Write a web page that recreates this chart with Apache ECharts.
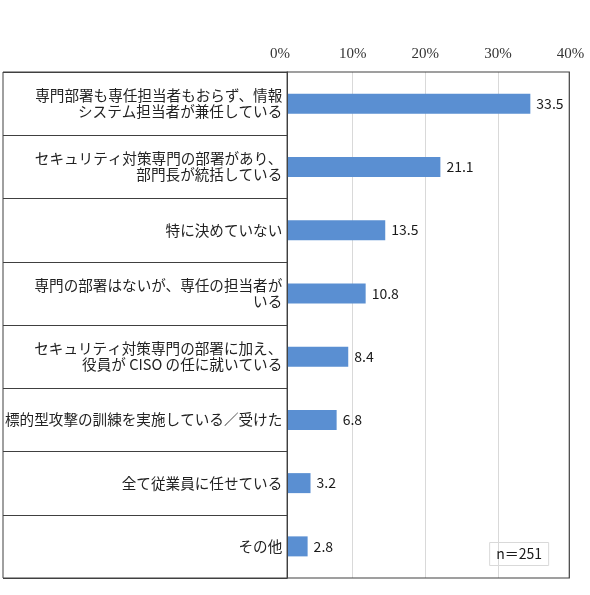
<!DOCTYPE html>
<html>
<head>
<meta charset="utf-8">
<script src="https://cdn.jsdelivr.net/npm/echarts@6/dist/echarts.min.js"></script>
<style>
  html, body { margin: 0; padding: 0; background: #fff; }
  #chart { width: 590px; height: 595px; }
</style>
</head>
<body>
<div id="chart"></div>
<script>
var categories = [
  '専門部署も専任担当者もおらず、情報\nシステム担当者が兼任している',
  'セキュリティ対策専門の部署があり、\n部門長が統括している',
  '特に決めていない',
  '専門の部署はないが、専任の担当者が\nいる',
  'セキュリティ対策専門の部署に加え、\n役員が CISO の任に就いている',
  '標的型攻撃の訓練を実施している／受けた',
  '全て従業員に任せている',
  'その他'
];
var values = [33.5, 21.1, 13.5, 10.8, 8.4, 6.8, 3.2, 2.8];
var tickValues = [0, 10, 20, 30, 40];
var sampleNote = 'n＝251';

var chart = echarts.init(document.getElementById('chart'), null, { renderer: 'canvas' });

var jpFont = '"Noto Sans CJK JP", "Noto Sans", sans-serif';
var lineColor = '#404040';

var option = {
  backgroundColor: '#fff',
  animation: false,
  title: {
    text: sampleNote,
    right: 41,
    bottom: 29,
    padding: [5, 7],
    borderColor: '#d9d9d9',
    borderWidth: 1,
    textStyle: { fontFamily: jpFont, fontSize: 14, fontWeight: 'normal', color: '#1a1a1a' }
  },
  grid: [
    // scale labels + gridlines
    { left: 280, width: 290.6, top: 72, bottom: 17, outerBoundsMode: 'none' },
    // bars
    { left: 287.3, width: 290.2, top: 72, bottom: 17, outerBoundsMode: 'none' },
    // label table on the left
    { left: 3, width: 284.3, top: 72, bottom: 17, outerBoundsMode: 'none', show: true, borderColor: lineColor, borderWidth: 1 }
  ],
  xAxis: [
    {
      gridIndex: 0,
      type: 'value',
      position: 'top',
      min: tickValues[0],
      max: tickValues[tickValues.length - 1],
      interval: 10,
      axisLine: { show: false },
      axisTick: { show: false },
      axisLabel: {
        margin: 10,
        formatter: '{value}%',
        fontFamily: '"Liberation Serif", "DejaVu Serif", serif',
        fontSize: 15,
        color: '#333'
      },
      splitLine: {
        show: true,
        showMinLine: false,
        showMaxLine: false,
        lineStyle: { color: '#d9d9d9', width: 1 }
      }
    },
    {
      gridIndex: 1,
      type: 'value',
      min: 0,
      max: 40,
      show: false
    },
    {
      gridIndex: 2,
      type: 'value',
      show: false
    }
  ],
  yAxis: [
    {
      gridIndex: 0,
      type: 'category',
      data: categories,
      inverse: true,
      show: false
    },
    {
      gridIndex: 1,
      type: 'category',
      data: categories,
      inverse: true,
      axisLine: { show: true, lineStyle: { color: lineColor } },
      axisTick: { show: false },
      axisLabel: {
        margin: 5,
        align: 'right',
        fontFamily: jpFont,
        fontSize: 14.6,
        lineHeight: 16,
        color: '#222'
      }
    },
    {
      gridIndex: 2,
      type: 'category',
      data: categories,
      inverse: true,
      axisLine: { show: false },
      axisTick: { show: false },
      axisLabel: { show: false },
      splitLine: { show: true, interval: 0, lineStyle: { color: lineColor, width: 1 } }
    }
  ],
  graphic: [
    {
      type: 'rect',
      z: 50,
      silent: true,
      shape: { x: 287.3, y: 72, width: 282, height: 506 },
      style: { fill: 'none', stroke: lineColor, lineWidth: 1.2 }
    }
  ],
  series: [
    {
      type: 'bar',
      xAxisIndex: 1,
      yAxisIndex: 1,
      data: values,
      barWidth: 20,
      itemStyle: { color: '#5a8fd2' },
      label: {
        show: true,
        position: 'right',
        distance: 6,
        fontFamily: jpFont,
        fontSize: 14,
        color: '#1a1a1a',
        formatter: function (p) { return p.value.toFixed(1); }
      }
    }
  ]
};

chart.setOption(option);
</script>
</body>
</html>
